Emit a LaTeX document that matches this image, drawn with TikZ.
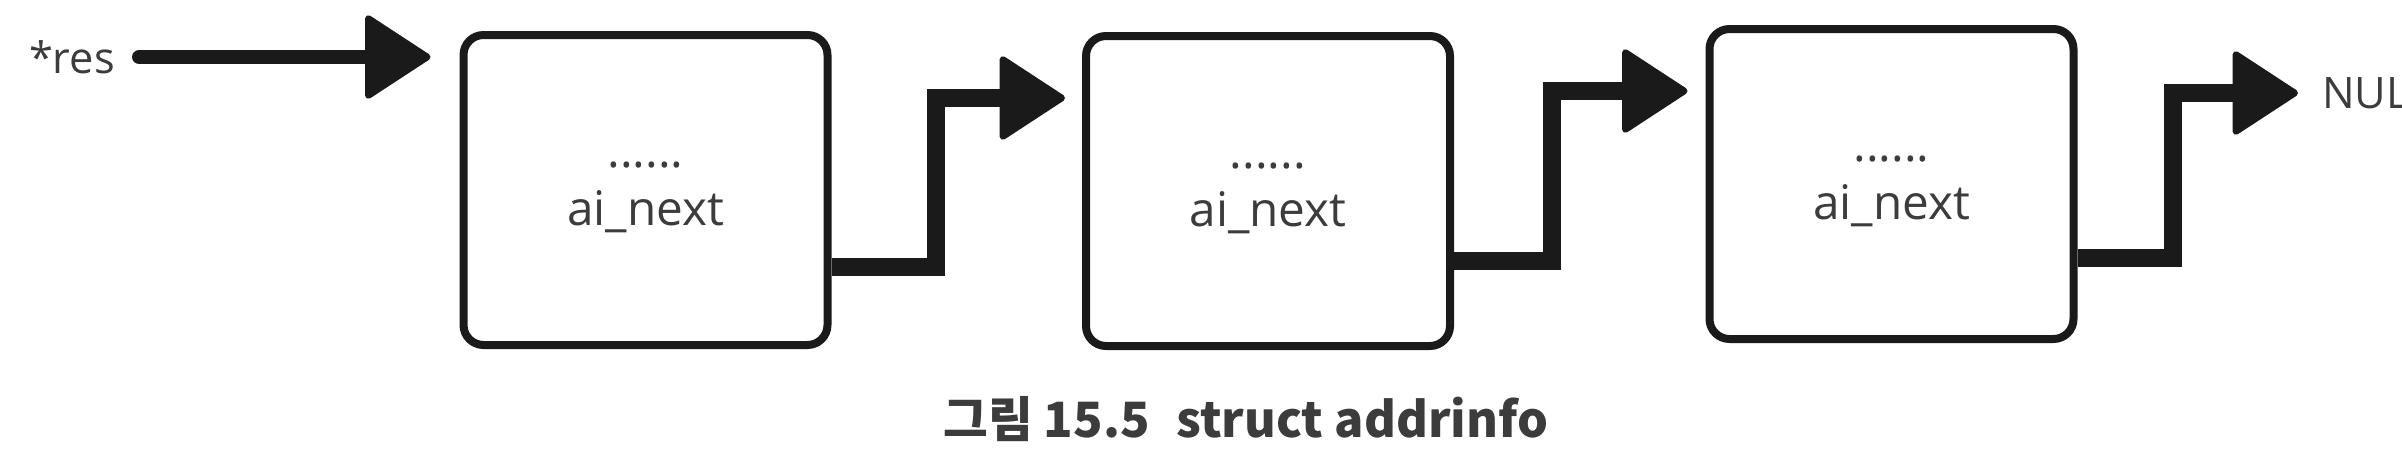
\documentclass[tikz,border=0pt]{standalone}
\usepackage{fontspec}
\setmainfont{Open Sans}
\newfontfamily\krfont{Noto Sans CJK KR}
\usetikzlibrary{arrows.meta}

\definecolor{ink}{HTML}{1A1A1A}
\definecolor{txt}{HTML}{3C3C3C}

\tikzset{every picture/.style={line width=0.75pt}}
\tikzset{
  record/.style={draw=ink, line width=2.4pt, rounded corners=6pt, minimum width=109.2pt, minimum height=93pt, inner sep=0pt},
  link/.style={draw=ink, line width=5.3pt, -{Triangle[length=20.5pt,width=26.3pt,line width=2pt,round]}},
  field/.style={text=txt, font=\fontsize{14.3}{17.3}\selectfont, align=center, inner sep=0pt},
  tag/.style={text=txt, font=\fontsize{13}{15}\selectfont, inner sep=0pt},
  caption/.style={text=txt, font=\krfont\bfseries\fontsize{14.6}{18}\selectfont, inner sep=0pt}
}

\begin{document}
\begin{tikzpicture}[x=0.3pt,y=0.3pt,yscale=-1]
\useasboundingbox (0,0) rectangle (2402,475);

%Shape: Rectangle [id:box1]
\node[record] (box1) at (645.5,190) {};
%Shape: Rectangle [id:box2]
\node[record] (box2) at (1268,191) {};
%Shape: Rectangle [id:box3]
\node[record] (box3) at (1891.5,184) {};

% Text Node
\node[field] (f1) at ([yshift=2.3pt]box1.center) {......\\ai\_next};
% Text Node
\node[field] (f2) at ([yshift=2.3pt]box2.center) {......\\ai\_next};
% Text Node
\node[field] (f3) at ([yshift=2.3pt]box3.center) {......\\ai\_next};
% Text Node
\node[tag, anchor=east] (res) at (116,57) {*res};
% Text Node
\node[tag, anchor=west] (null) at (2321,93) {NULL};
% Text Node
\node[caption, anchor=base west] (cap) at (942,437) {그림 15.5\hspace{8pt}struct addrinfo};

%Straight Lines [id:res]
\draw[link, line width=4.4pt, line cap=round] ([xshift=7pt]res.east) -- ([xshift=-8.7pt]box1.west |- res.east);
%Straight Lines [id:next1]
\draw[link] (box1.east |- 0,267) -| (936,98) -- ([xshift=-5.1pt]box2.west |- 0,98);
%Straight Lines [id:next2]
\draw[link] (box2.east |- 0,261) -| (1552,91) -- ([xshift=-5.4pt]box3.west |- 0,91);
%Straight Lines [id:next3]
\draw[link] (box3.east |- 0,258) -| (2173,93) -- ([xshift=-6.9pt]null.west);

\end{tikzpicture}
\end{document}
